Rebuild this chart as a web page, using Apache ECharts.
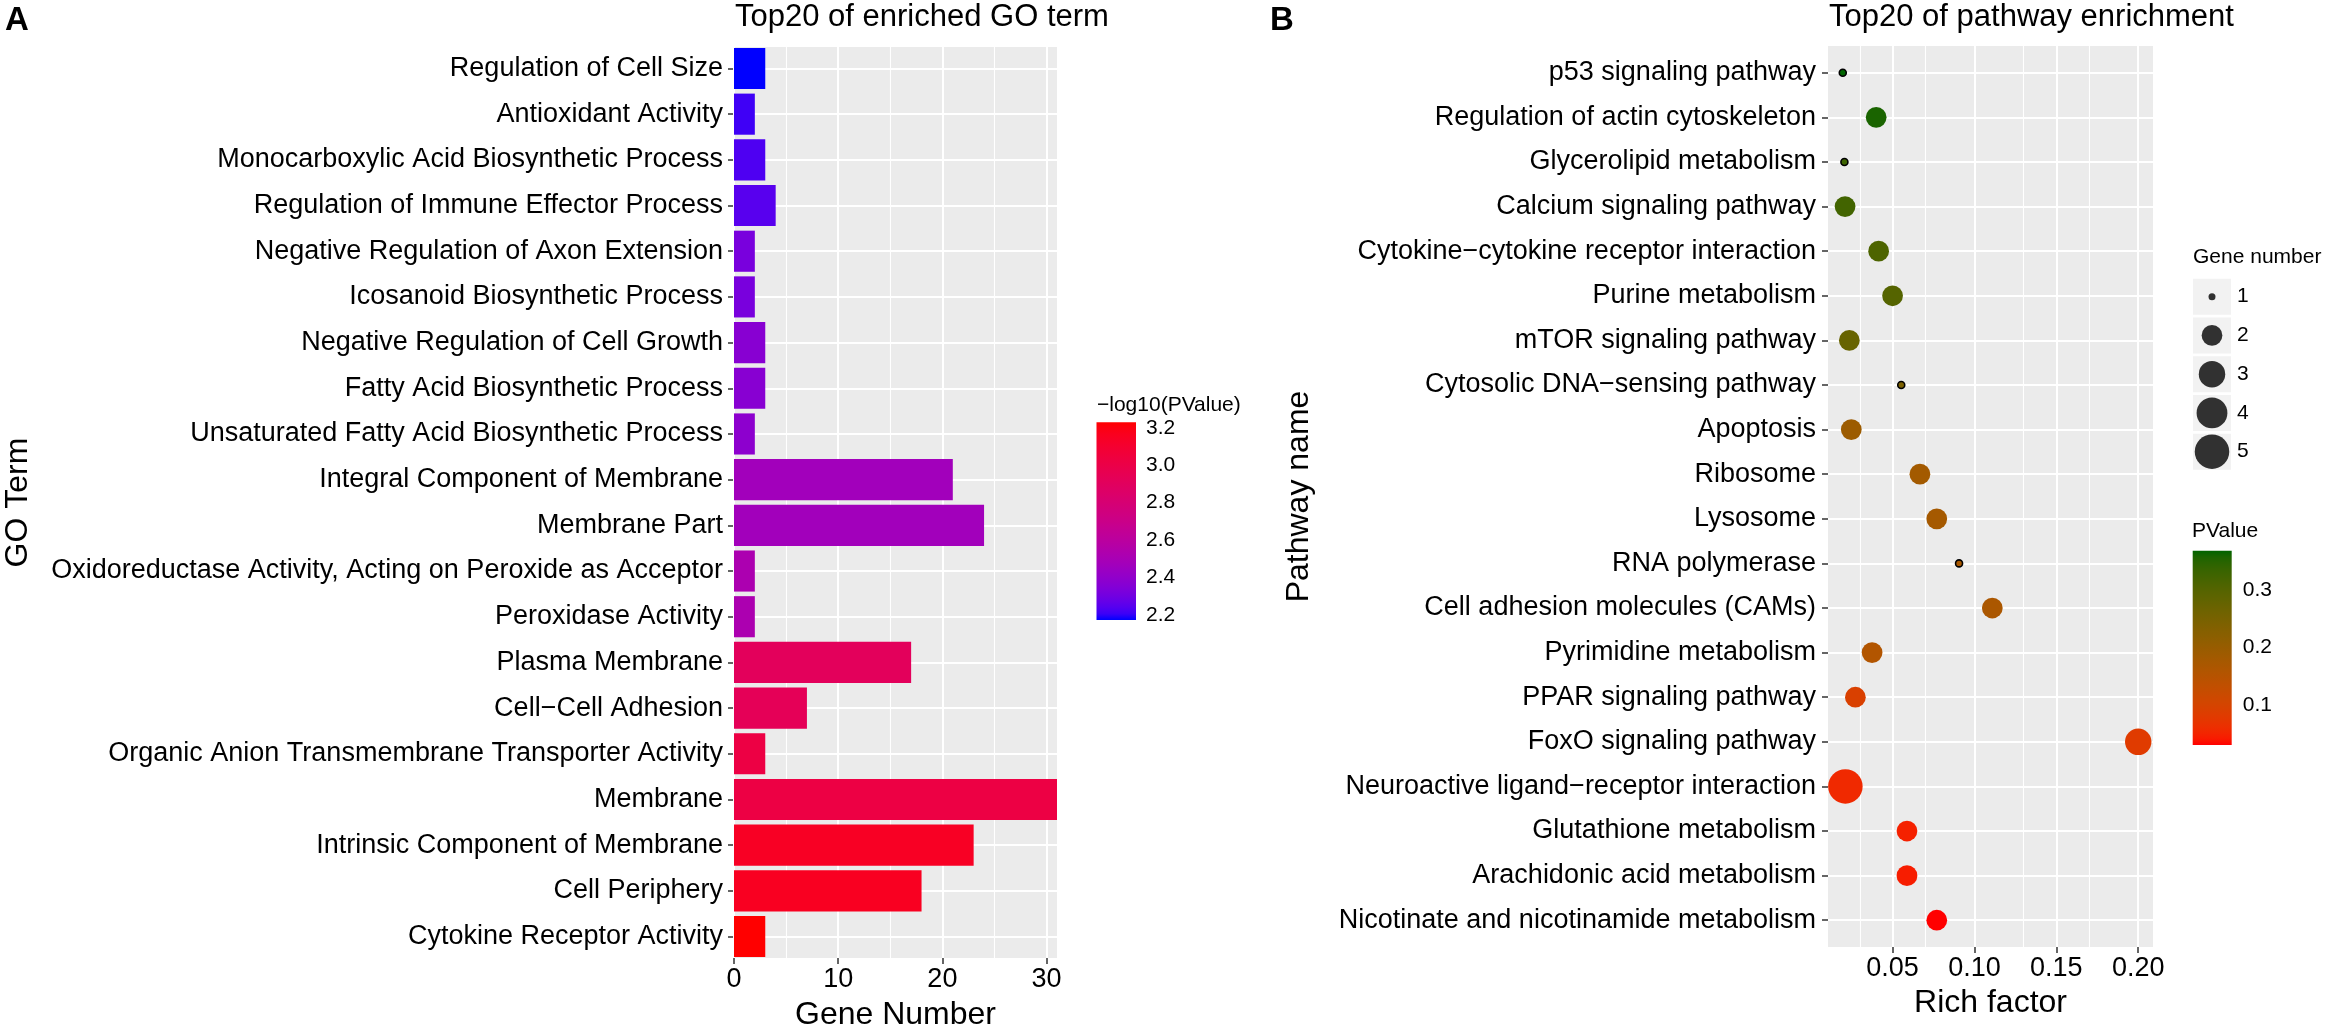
<!DOCTYPE html>
<html><head><meta charset="utf-8">
<script src="https://cdn.jsdelivr.net/npm/echarts@6/dist/echarts.min.js"></script>
<style>html,body{margin:0;padding:0;background:#fff}#c{width:2337px;height:1036px}</style>
</head><body><div id="c"></div>
<script>
// ---------------- Panel A data (top -> bottom) ----------------
const goTerms = [
  "Regulation of Cell Size",
  "Antioxidant Activity",
  "Monocarboxylic Acid Biosynthetic Process",
  "Regulation of Immune Effector Process",
  "Negative Regulation of Axon Extension",
  "Icosanoid Biosynthetic Process",
  "Negative Regulation of Cell Growth",
  "Fatty Acid Biosynthetic Process",
  "Unsaturated Fatty Acid Biosynthetic Process",
  "Integral Component of Membrane",
  "Membrane Part",
  "Oxidoreductase Activity, Acting on Peroxide as Acceptor",
  "Peroxidase Activity",
  "Plasma Membrane",
  "Cell\u2212Cell Adhesion",
  "Organic Anion Transmembrane Transporter Activity",
  "Membrane",
  "Intrinsic Component of Membrane",
  "Cell Periphery",
  "Cytokine Receptor Activity"
];
const goGeneNumber = [3, 2, 3, 4, 2, 2, 3, 3, 2, 21, 24, 2, 2, 17, 7, 3, 31, 23, 18, 3];
const goLogP = [2.173, 2.210, 2.231, 2.247, 2.321, 2.321, 2.368, 2.368, 2.384, 2.469,
                2.469, 2.521, 2.521, 2.912, 2.933, 3.018, 3.018, 3.145, 3.155, 3.229];
const goXTicks = [0, 10, 20, 30];
const goXMinor = [5, 15, 25];
const goColorTicks = [2.2, 2.4, 2.6, 2.8, 3.0, 3.2];

// ---------------- Panel B data (top -> bottom) ----------------
const pathways = [
  "p53 signaling pathway",
  "Regulation of actin cytoskeleton",
  "Glycerolipid metabolism",
  "Calcium signaling pathway",
  "Cytokine\u2212cytokine receptor interaction",
  "Purine metabolism",
  "mTOR signaling pathway",
  "Cytosolic DNA\u2212sensing pathway",
  "Apoptosis",
  "Ribosome",
  "Lysosome",
  "RNA polymerase",
  "Cell adhesion molecules (CAMs)",
  "Pyrimidine metabolism",
  "PPAR signaling pathway",
  "FoxO signaling pathway",
  "Neuroactive ligand\u2212receptor interaction",
  "Glutathione metabolism",
  "Arachidonic acid metabolism",
  "Nicotinate and nicotinamide metabolism"
];
const richFactor = [0.0196, 0.0400, 0.0206, 0.0210, 0.0415, 0.0500, 0.0236, 0.0553, 0.0248, 0.0667,
                    0.0770, 0.0906, 0.1109, 0.0375, 0.0273, 0.2000, 0.0212, 0.0588, 0.0588, 0.0770];
const pathGeneNumber = [1, 2, 1, 2, 2, 2, 2, 1, 2, 2, 2, 1, 2, 2, 2, 3, 5, 2, 2, 2];
const pathPValue = [0.368, 0.358, 0.328, 0.322, 0.310, 0.300, 0.274, 0.243, 0.192, 0.182,
                    0.178, 0.172, 0.168, 0.158, 0.092, 0.082, 0.055, 0.048, 0.044, 0.031];
const richTicks = [0.05, 0.10, 0.15, 0.20];
const richMinor = [0.025, 0.075, 0.125, 0.175];
const pColorTicks = [0.1, 0.2, 0.3];
const sizeKeys = [1, 2, 3, 4, 5];

// ---------------- colour ramps in CIELAB (as ggplot) ----------------
function s2l(c){c/=255;return c<=0.04045?c/12.92:Math.pow((c+0.055)/1.055,2.4);}
function l2s(c){c=Math.max(0,Math.min(1,c));const v=c<=0.0031308?12.92*c:1.055*Math.pow(c,1/2.4)-0.055;return Math.round(v*255);}
const WX=0.95047,WY=1,WZ=1.08883;
function fl(t){return t>0.008856?Math.cbrt(t):7.787*t+16/116;}
function fi(t){return t>0.206893?t*t*t:(t-16/116)/7.787;}
function hexToLab(h){
  const r=s2l(parseInt(h.slice(1,3),16)),g=s2l(parseInt(h.slice(3,5),16)),b=s2l(parseInt(h.slice(5,7),16));
  const X=(0.4124*r+0.3576*g+0.1805*b)/WX,Y=(0.2126*r+0.7152*g+0.0722*b)/WY,Z=(0.0193*r+0.1192*g+0.9505*b)/WZ;
  const fx=fl(X),fy=fl(Y),fz=fl(Z);return [116*fy-16,500*(fx-fy),200*(fy-fz)];
}
function labToHex(L,a,b){
  const fy=(L+16)/116,fx=fy+a/500,fz=fy-b/200;
  const X=fi(fx)*WX,Y=fi(fy)*WY,Z=fi(fz)*WZ;
  const r=3.2406*X-1.5372*Y-0.4986*Z,g=-0.9689*X+1.8758*Y+0.0415*Z,bb=0.0557*X-0.2040*Y+1.0570*Z;
  return '#'+[r,g,bb].map(v=>l2s(v).toString(16).padStart(2,'0')).join('');
}
function labRamp(c0,c1,n){
  const A=hexToLab(c0),B=hexToLab(c1),out=[];
  for(let i=0;i<n;i++){const t=i/(n-1);out.push(labToHex(A[0]+(B[0]-A[0])*t,A[1]+(B[1]-A[1])*t,A[2]+(B[2]-A[2])*t));}
  return out;
}
const blueRed = labRamp('#0000FF','#FF0000',33);
const redGreen = labRamp('#FF0000','#006400',33);
function gradientFill(colors){
  return new echarts.graphic.LinearGradient(0,1,0,0,colors.map((c,i)=>({offset:i/(colors.length-1),color:c})));
}

// size scale (ggplot area palette, range 1..6)
const sMin = Math.min(...pathGeneNumber), sMax = Math.max(...pathGeneNumber);
function symSize(n){return 5.5*(1+5*Math.sqrt((n-sMin)/(sMax-sMin)))+1.5;}

const FONT = '"Liberation Sans", Arial, Helvetica, sans-serif';
const N1 = goTerms.length, N2 = pathways.length;
const goLogMin = Math.min(...goLogP), goLogMax = Math.max(...goLogP);
const pMin = Math.min(...pathPValue), pMax = Math.max(...pathPValue);
const rfMin = Math.min(...richFactor), rfMax = Math.max(...richFactor), rfR = rfMax - rfMin;
const goRowIdx = goTerms.map((_, i) => i + 1);
const pathRowIdx = pathways.map((_, i) => i + 1);

const WHITE_MAJOR = {color:'#ffffff', width:2, type:'solid'};
const WHITE_MINOR = {color:'#ffffff', width:1.1, type:'solid'};
function gridLines(xMajor, xMinor, rows){
  return {
    silent:true, symbol:['none','none'], z:1, animation:false,
    label:{show:false}, emphasis:{disabled:true},
    data:[
      ...xMinor.map(v=>({xAxis:v, lineStyle:WHITE_MINOR})),
      ...xMajor.map(v=>({xAxis:v, lineStyle:WHITE_MAJOR})),
      ...rows.map(v=>({yAxis:v, lineStyle:WHITE_MAJOR}))
    ]
  };
}
const tickStyle = {show:true, length:6, lineStyle:{color:'#333333', width:1.5}};
const cbTick = (vals) => ({show:true, inside:true, length:7, customValues:vals, lineStyle:{color:'rgba(255,255,255,0.85)', width:1.2}});

const option = {
  animation:false,
  backgroundColor:'#ffffff',
  textStyle:{fontFamily:FONT},
  title:[
    {text:'A', left:5, top:4, padding:0, textStyle:{fontSize:33, fontWeight:'bold', color:'#000', fontFamily:FONT}},
    {text:'B', left:1270, top:4, padding:0, textStyle:{fontSize:33, fontWeight:'bold', color:'#000', fontFamily:FONT}},
    {text:'Top20 of enriched GO term', left:735, top:2, padding:0, textStyle:{fontSize:31, fontWeight:'normal', color:'#000', fontFamily:FONT}},
    {text:'Top20 of pathway enrichment', left:1829, top:2, padding:0, textStyle:{fontSize:31, fontWeight:'normal', color:'#000', fontFamily:FONT}},
    {text:'\u2212log10(PValue)', left:1097, top:395, padding:0, textStyle:{fontSize:21, fontWeight:'normal', color:'#000', fontFamily:FONT}},
    {text:'Gene number', left:2193, top:247, padding:0, textStyle:{fontSize:21, fontWeight:'normal', color:'#000', fontFamily:FONT}},
    {text:'PValue', left:2192, top:521, padding:0, textStyle:{fontSize:21, fontWeight:'normal', color:'#000', fontFamily:FONT}}
  ],
  grid:[
    {left:734, top:47, width:323, height:918, show:true, backgroundColor:'#EBEBEB', borderWidth:0},
    {left:1828, top:46, width:325, height:901, show:true, backgroundColor:'#EBEBEB', borderWidth:0},
    {left:1096.5, top:422.3, width:39.5, height:197.7},
    {left:2193, top:277.3, width:38, height:193.75},
    {left:2192.7, top:550.7, width:39, height:194.3}
  ],
  xAxis:[
    {gridIndex:0, type:'value', min:0, max:31, axisLine:{show:false}, splitLine:{show:false},
     axisTick:Object.assign({customValues:goXTicks}, tickStyle),
     axisLabel:{customValues:goXTicks, color:'#000', fontSize:27, margin:8, fontFamily:FONT},
     name:'Gene Number', nameLocation:'middle', nameGap:41, nameTextStyle:{fontSize:32, color:'#000', fontFamily:FONT}},
    {gridIndex:1, type:'value', min:rfMin-0.05*rfR, max:rfMax+0.05*rfR, axisLine:{show:false}, splitLine:{show:false},
     axisTick:Object.assign({customValues:richTicks}, tickStyle),
     axisLabel:{customValues:richTicks, color:'#000', fontSize:27, margin:8, fontFamily:FONT, formatter:v=>v.toFixed(2)},
     name:'Rich factor', nameLocation:'middle', nameGap:38, nameTextStyle:{fontSize:32, color:'#000', fontFamily:FONT}},
    {gridIndex:2, type:'value', min:0, max:1, show:false},
    {gridIndex:3, type:'value', min:0, max:1, show:false},
    {gridIndex:4, type:'value', min:0, max:1, show:false}
  ],
  yAxis:[
    {gridIndex:0, type:'value', min:0.53, max:N1+0.47, axisLine:{show:false}, splitLine:{show:false},
     axisTick:Object.assign({customValues:goRowIdx}, tickStyle),
     axisLabel:{customValues:goRowIdx, color:'#000', fontSize:27, margin:11, fontFamily:FONT,
                formatter:v=>goTerms[N1-Math.round(v)]},
     name:'GO Term', nameLocation:'middle', nameGap:700, nameTextStyle:{fontSize:32, color:'#000', fontFamily:FONT}},
    {gridIndex:1, type:'value', min:0.4, max:N2+0.6, axisLine:{show:false}, splitLine:{show:false},
     axisTick:Object.assign({customValues:pathRowIdx}, tickStyle),
     axisLabel:{customValues:pathRowIdx, color:'#000', fontSize:27, margin:12, fontFamily:FONT,
                formatter:v=>pathways[N2-Math.round(v)]},
     name:'Pathway name', nameLocation:'middle', nameGap:513, nameTextStyle:{fontSize:32, color:'#000', fontFamily:FONT}},
    // left colour bar axes
    {gridIndex:2, type:'value', position:'right', min:goLogMin, max:goLogMax, axisLine:{show:false}, splitLine:{show:false},
     axisTick:cbTick(goColorTicks),
     axisLabel:{customValues:goColorTicks, color:'#000', fontSize:21, margin:10, fontFamily:FONT, formatter:v=>v.toFixed(1)}},
    {gridIndex:2, type:'value', position:'left', min:goLogMin, max:goLogMax, axisLine:{show:false}, splitLine:{show:false},
     axisTick:cbTick(goColorTicks), axisLabel:{show:false}},
    // size legend axis
    {gridIndex:3, type:'value', position:'right', min:0.5, max:sizeKeys.length+0.5, inverse:true,
     axisLine:{show:false}, splitLine:{show:false}, axisTick:{show:false},
     axisLabel:{customValues:sizeKeys, color:'#000', fontSize:21, margin:6, fontFamily:FONT}},
    // right colour bar axes
    {gridIndex:4, type:'value', position:'right', min:pMin, max:pMax, axisLine:{show:false}, splitLine:{show:false},
     axisTick:cbTick(pColorTicks),
     axisLabel:{customValues:pColorTicks, color:'#000', fontSize:21, margin:11, fontFamily:FONT, formatter:v=>v.toFixed(1)}},
    {gridIndex:4, type:'value', position:'left', min:pMin, max:pMax, axisLine:{show:false}, splitLine:{show:false},
     axisTick:cbTick(pColorTicks), axisLabel:{show:false}}
  ],
  visualMap:[
    {type:'continuous', show:false, seriesIndex:0, dimension:2, min:goLogMin, max:goLogMax, inRange:{color:blueRed}},
    {type:'continuous', show:false, seriesIndex:1, dimension:3, min:pMin, max:pMax, inRange:{color:redGreen}}
  ],
  series:[
    { // bars panel A
      type:'custom', xAxisIndex:0, yAxisIndex:0, z:2, silent:true,
      data:goTerms.map((t,i)=>[goGeneNumber[i], N1-i, goLogP[i]]),
      encode:{x:0, y:1},
      renderItem:function(params, api){
        const v=api.value(0), y=api.value(1);
        const a=api.coord([0,y]), b=api.coord([v,y]);
        const h=api.size([0,0.9])[1];
        return {type:'rect', shape:{x:a[0], y:a[1]-h/2, width:b[0]-a[0], height:h}, style:{fill:api.visual('color')}};
      },
      markLine:gridLines(goXTicks, goXMinor, goRowIdx)
    },
    { // points panel B
      type:'scatter', xAxisIndex:1, yAxisIndex:1, z:2, silent:true,
      data:pathways.map((p,i)=>({
        value:[richFactor[i], N2-i, pathGeneNumber[i], pathPValue[i]],
        itemStyle: pathGeneNumber[i]===1 ? {borderColor:'#000', borderWidth:1.6} : {borderWidth:0}
      })),
      encode:{x:0, y:1},
      symbolSize:function(val){return symSize(val[2]);},
      itemStyle:{opacity:1},
      emphasis:{disabled:true},
      markLine:gridLines(richTicks, richMinor, pathRowIdx)
    },
    { // colour bar A
      type:'custom', xAxisIndex:2, yAxisIndex:2, silent:true,
      data:[[0, goLogMin, goLogMax]], encode:{x:0, y:[1,2]},
      renderItem:function(params, api){
        const a=api.coord([0,api.value(1)]), b=api.coord([1,api.value(2)]);
        return {type:'rect', shape:{x:a[0], y:b[1], width:b[0]-a[0], height:a[1]-b[1]}, style:{fill:gradientFill(blueRed)}};
      }
    },
    { // size legend key backgrounds
      type:'custom', xAxisIndex:3, yAxisIndex:4, silent:true,
      data:sizeKeys.map(k=>[0, k]), encode:{x:0, y:1},
      renderItem:function(params, api){
        const k=api.value(1);
        const a=api.coord([0,k-0.465]), b=api.coord([1,k+0.465]);
        return {type:'rect', shape:{x:a[0], y:Math.min(a[1],b[1]), width:b[0]-a[0], height:Math.abs(a[1]-b[1])}, style:{fill:'#F2F2F2'}};
      }
    },
    { // size legend points
      type:'scatter', xAxisIndex:3, yAxisIndex:4, z:3, silent:true,
      data:sizeKeys.map(k=>[0.5, k, k]), encode:{x:0, y:1},
      symbolSize:function(val){return symSize(val[2]);},
      itemStyle:{color:'#000'}, emphasis:{disabled:true}
    },
    { // colour bar B
      type:'custom', xAxisIndex:4, yAxisIndex:5, silent:true,
      data:[[0, pMin, pMax]], encode:{x:0, y:[1,2]},
      renderItem:function(params, api){
        const a=api.coord([0,api.value(1)]), b=api.coord([1,api.value(2)]);
        return {type:'rect', shape:{x:a[0], y:b[1], width:b[0]-a[0], height:a[1]-b[1]}, style:{fill:gradientFill(redGreen)}};
      }
    }
  ]
};
const chart = echarts.init(document.getElementById('c'), null, {renderer:'canvas'});
chart.setOption(option);
</script>
</body></html>
